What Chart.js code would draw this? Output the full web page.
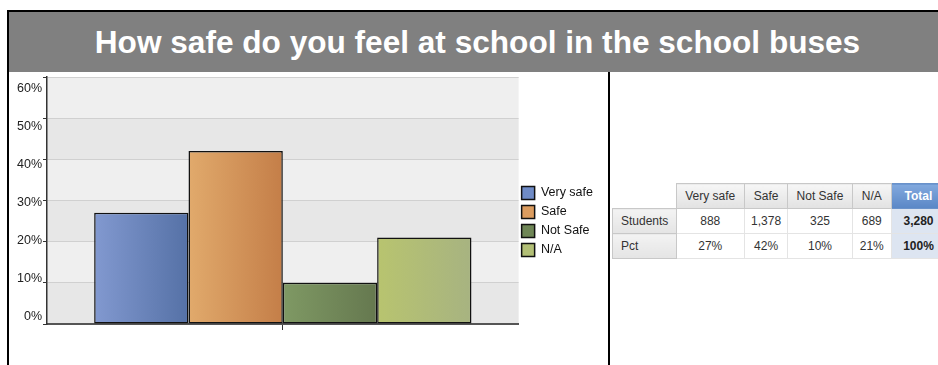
<!DOCTYPE html>
<html>
<head>
<meta charset="utf-8">
<script src="https://cdn.jsdelivr.net/npm/chart.js@4.4.1/dist/chart.umd.min.js"></script>
<style>
  html, body { margin: 0; padding: 0; background: #fff; }
  body {
    width: 938px; height: 365px; overflow: hidden; position: relative;
    font-family: "Liberation Sans", Arial, sans-serif;
  }
  #frame {
    position: absolute; left: 7px; top: 10px; width: 937px; height: 400px;
    border-top: 2px solid #000; border-left: 2px solid #000;
  }
  #title {
    height: 60px; line-height: 60px; background: #808080; color: #fff;
    font-weight: bold; font-size: 31.6px; text-align: center; white-space: nowrap;
  }
  #chartPanel {
    position: absolute; left: 0; top: 60px; width: 599px; height: 340px;
    border-right: 2px solid #000;
  }
  #chartCanvas { position: absolute; left: 0; top: 0; }
  #stats {
    position: absolute; left: 603px; top: 171px; border-collapse: collapse;
    table-layout: fixed; font-size: 12px; color: #333;
  }
  #stats th, #stats td {
    height: 24px; padding: 0; text-align: center; font-weight: normal; white-space: nowrap;
  }
  #stats th { background: linear-gradient(#f6f6f6, #e2e2e2); border: 1px solid #c8c8c8; }
  #stats th.corner { background: none; border: none; }
  #stats th.row { text-align: left; padding-left: 8px; background: linear-gradient(#f3f3f3, #e4e4e4); }
  #stats td { background: #fff; border: 1px solid #e4e4e4; }
  #stats th.total {
    background: linear-gradient(#82a9de, #5a87c6); color: #fff; font-weight: bold;
    border-color: #6a92ca;
  }
  #stats td.total { background: #dde5f1; font-weight: bold; color: #222; }
</style>
</head>
<body>
<div id="frame">
  <div id="title">How safe do you feel at school in the school buses</div>
  <div id="chartPanel"><canvas id="chartCanvas" width="599" height="294"></canvas></div>
  <table id="stats"></table>
</div>
<script>
const categories = ['Very safe', 'Safe', 'Not Safe', 'N/A'];
const students = [888, 1378, 325, 689];
const percents = [27, 42, 10, 21];
const yTicks = [0, 10, 20, 30, 40, 50, 60];
const yTickLabels = ['0%', '10%', '20%', '30%', '40%', '50%', '60%'];

// left / right colours of each bar's shading
const fillStops = [
  ['#8299d0', '#5571a6'],
  ['#e1aa6c', '#c47e48'],
  ['#7f9964', '#65784f'],
  ['#b8c46f', '#a7b381']
];
const swatch = ['#6f8bc6', '#db9c5f', '#6f8656', '#b2bf76'];

const FONT = "'Liberation Sans', Arial, sans-serif";

// alternating grey bands behind the grid lines
const bandPlugin = {
  id: 'bands',
  beforeDraw(chart) {
    const { ctx, chartArea: a, scales: { y } } = chart;
    ctx.save();
    for (let i = 0; i < yTicks.length - 1; i++) {
      const top = y.getPixelForValue(yTicks[i + 1]);
      const bot = y.getPixelForValue(yTicks[i]);
      ctx.fillStyle = i % 2 === 0 ? '#e7e7e7' : '#efefef';
      ctx.fillRect(a.left, top, a.right - a.left, bot - top);
    }
    ctx.restore();
  }
};

// horizontal gradient on every bar
const shadePlugin = {
  id: 'shade',
  beforeDatasetsDraw(chart) {
    const ctx = chart.ctx;
    chart.data.datasets.forEach((ds, i) => {
      chart.getDatasetMeta(i).data.forEach(bar => {
        const { x, width } = bar.getProps(['x', 'width'], true);
        const g = ctx.createLinearGradient(x - width / 2, 0, x + width / 2, 0);
        g.addColorStop(0, fillStops[i][0]);
        g.addColorStop(1, fillStops[i][1]);
        bar.options = Object.assign({}, bar.options, { backgroundColor: g });
      });
    });
  }
};

// y labels sit on a slightly tighter spread than the tick marks
const yLabelPlugin = {
  id: 'yLabels',
  afterDraw(chart) {
    const { ctx, chartArea: a } = chart;
    const max = yTicks[yTicks.length - 1];
    const first = a.top + 12, last = a.bottom - 7;
    ctx.save();
    ctx.font = '12.5px ' + FONT;
    ctx.fillStyle = '#222';
    ctx.textAlign = 'right';
    ctx.textBaseline = 'middle';
    yTicks.forEach((v, i) => {
      const t = (max - v) / max;
      ctx.fillText(yTickLabels[i], a.left - 5, first + t * (last - first));
    });
    ctx.restore();
  }
};

// pull the legend a few px closer to the plot
const legendShift = {
  id: 'legendShift',
  afterLayout(chart) {
    chart.legend.left -= 3;
    chart.legend.right -= 3;
  }
};

new Chart(document.getElementById('chartCanvas'), {
  type: 'bar',
  data: {
    labels: [''],
    datasets: categories.map((c, i) => ({
      label: c,
      data: [percents[i]],
      backgroundColor: swatch[i],
      borderColor: '#111',
      borderWidth: 1.5,
      borderSkipped: false,
      categoryPercentage: 0.8,
      barPercentage: 1
    }))
  },
  options: {
    responsive: false,
    animation: false,
    events: [],
    layout: { padding: { top: 5, right: 2, left: 0, bottom: 0 } },
    plugins: {
      tooltip: { enabled: false },
      legend: {
        position: 'right',
        labels: {
          boxWidth: 13,
          boxHeight: 13,
          padding: 6,
          color: '#111',
          font: { family: FONT, size: 12.5 },
          generateLabels: () => categories.map((c, i) => ({
            text: c, fillStyle: swatch[i], strokeStyle: '#111', lineWidth: 1.5,
            fontColor: '#111', datasetIndex: i, hidden: false
          }))
        }
      }
    },
    scales: {
      x: {
        ticks: { display: false },
        grid: { offset: false, drawOnChartArea: false, tickLength: 6, tickColor: '#333' },
        border: { color: '#555', width: 2 },
        afterFit: s => { s.height = 42; }
      },
      y: {
        min: yTicks[0],
        max: yTicks[yTicks.length - 1],
        ticks: { stepSize: 10, display: false },
        grid: { color: '#d0d0d0', tickLength: 4, tickColor: '#333' },
        border: { color: '#333', width: 1.5 },
        afterFit: s => { s.width = 38; }
      }
    }
  },
  plugins: [bandPlugin, shadePlugin, yLabelPlugin, legendShift]
});

// summary table beside the chart
const fmt = n => n.toLocaleString('en-US');
const totalStudents = students.reduce((s, n) => s + n, 0);
const totalPct = percents.reduce((s, n) => s + n, 0);
const colWidths = [64, 69, 44, 65, 40, 55];

let html = '<colgroup>' + colWidths.map(w => `<col style="width:${w}px">`).join('') + '</colgroup>';
html += '<tr><th class="corner"></th>' + categories.map(c => `<th>${c}</th>`).join('') +
  '<th class="total">Total</th></tr>';
html += '<tr><th class="row">Students</th>' + students.map(n => `<td>${fmt(n)}</td>`).join('') +
  `<td class="total">${fmt(totalStudents)}</td></tr>`;
html += '<tr><th class="row">Pct</th>' + percents.map(p => `<td>${p}%</td>`).join('') +
  `<td class="total">${totalPct}%</td></tr>`;
document.getElementById('stats').innerHTML = html;
</script>
</body>
</html>
